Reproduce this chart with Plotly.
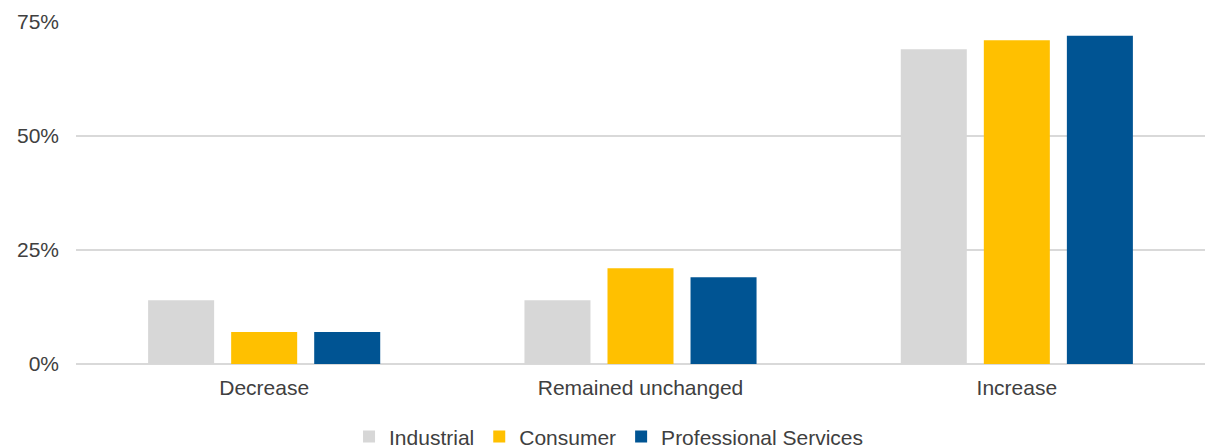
import plotly.graph_objects as go

categories = ["Decrease", "Remained unchanged", "Increase"]
industrial = [14, 14, 69]
consumer = [7, 21, 71]
professional = [7, 19, 72]
y_ticks = [0, 25, 50, 75]
y_tick_labels = ["0%", "25%", "50%", "75%"]

series = [
    ("Industrial", industrial, "#D7D7D7"),
    ("Consumer", consumer, "#FFC000"),
    ("Professional Services", professional, "#005493"),
]

fig = go.Figure()
for name, values, color in series:
    fig.add_trace(go.Bar(
        name=name, x=categories, y=values,
        marker=dict(color=color, line=dict(width=0)),
    ))

font_family = "Liberation Sans, Arial, sans-serif"
text_color = "#404040"

fig.update_layout(
    width=1206, height=448,
    margin=dict(l=76, r=1, t=22, b=84),
    paper_bgcolor="white", plot_bgcolor="white",
    barmode="group", bargap=0.338, bargroupgap=0.205,
    font=dict(family=font_family, size=21, color=text_color),
    showlegend=True,
    legend=dict(
        orientation="h", xref="container", yref="container",
        x=0.505, xanchor="center", y=0.025, yanchor="middle",
        font=dict(size=21, color=text_color),
        itemclick=False, traceorder="normal",
    ),
    xaxis=dict(
        showgrid=False, showline=False, ticks="",
        ticklabelstandoff=9,
        tickfont=dict(size=21, color=text_color),
    ),
    yaxis=dict(
        range=[0, 75], tickvals=y_ticks, ticktext=y_tick_labels,
        showgrid=True, gridcolor="#D9D9D9", gridwidth=1.5,
        zeroline=True, zerolinecolor="#D9D9D9", zerolinewidth=2,
        showline=False, ticks="", ticklabelstandoff=16,
        tickfont=dict(size=21, color=text_color),
    ),
)

fig.write_html("out.html")
